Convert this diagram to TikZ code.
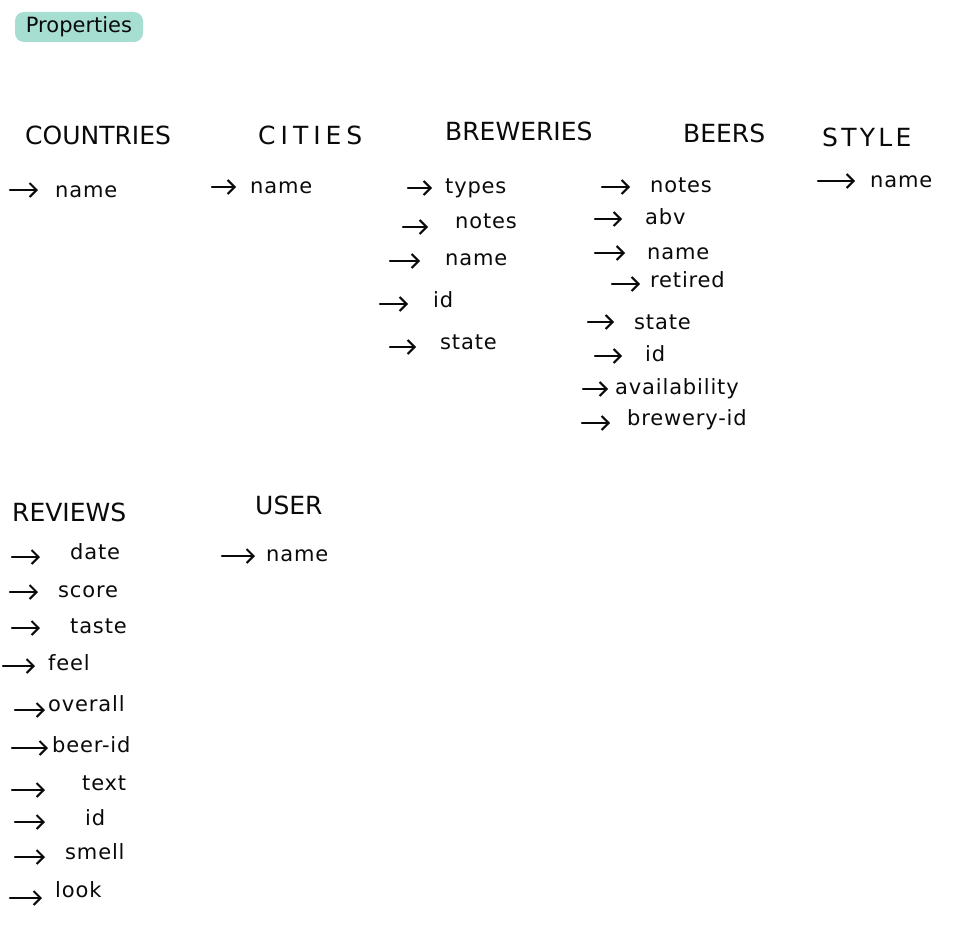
\documentclass[tikz,border=0pt]{standalone}
\usepackage{fontspec}
\setmainfont{DejaVu Sans}
\usetikzlibrary{arrows.meta}
\definecolor{hlteal}{RGB}{166,222,210}
\definecolor{ink}{RGB}{10,10,10}
\tikzset{
  hd/.style={font=\fontsize{25}{30}\selectfont, anchor=west, inner sep=0, text=ink},
  it/.style={font=\fontsize{21}{24}\selectfont\addfontfeature{LetterSpace=4}, anchor=mid west, inner sep=0, text=ink},
  arr/.style={draw=ink, line width=2.2pt, line cap=round, -{Straight Barb[length=7pt,width=14pt,line width=2pt]}},
  titlebox/.style={fill=hlteal, rounded corners=9pt, minimum width=128pt, minimum height=30pt,
    inner sep=0, font=\fontsize{21}{24}\selectfont, text=ink}
}
\newcommand\propln[7]{%
  \coordinate (#1s) at (#2,#4);
  \coordinate (#1e) at (#3,#4);
  \node[it] (#1) at (#5,#6+5) {#7};
  \draw[arr] (#1s) -- (#1e);
}
\begin{document}
\begin{tikzpicture}[x=1pt,y=-1pt]
\useasboundingbox (0,0) rectangle (976,934);
\fill[white] (0,0) rectangle (976,934);

\node[titlebox] (title) at (79,27) {Properties};

% headings
\node[hd] (countries) at (25,135) {COUNTRIES};
\node[hd] (cities) at (258,135) {\addfontfeature{LetterSpace=20}CITIES};
\node[hd] (breweries) at (445,131) {BREWERIES};
\node[hd] (beers) at (683,133) {BEERS};
\node[hd] (style) at (822,137) {\addfontfeature{LetterSpace=13}STYLE};
\node[hd] (reviews) at (12,512) {REVIEWS};
\node[hd] (user) at (255,505) {USER};

% countries
\propln{c1}{10}{38}{190}{55}{190}{name}
% cities
\propln{ci1}{212}{236}{187}{250}{186}{name}
% breweries
\propln{b1}{408}{432}{188}{445}{186}{types}
\propln{b2}{403}{428}{227}{455}{221}{notes}
\propln{b3}{390}{420}{261}{445}{258}{name}
\propln{b4}{380}{408}{304}{433}{300}{id}
\propln{b5}{390}{416}{347}{440}{342}{state}
% beers
\propln{e1}{602}{630}{187}{650}{185}{notes}
\propln{e2}{595}{622}{219}{645}{217}{abv}
\propln{e3}{595}{625}{253}{647}{252}{name}
\propln{e4}{612}{640}{284}{650}{280}{retired}
\propln{e5}{588}{614}{322}{634}{322}{state}
\propln{e6}{595}{622}{356}{645}{354}{id}
\propln{e7}{583}{608}{389}{615}{387}{availability}
\propln{e8}{582}{610}{423}{627}{418}{brewery-id}
% style
\propln{s1}{818}{855}{181}{870}{180}{name}
% reviews
\propln{r1}{12}{40}{557}{70}{552}{date}
\propln{r2}{10}{38}{592}{58}{590}{score}
\propln{r3}{12}{40}{628}{70}{626}{taste}
\propln{r4}{3}{35}{666}{48}{663}{feel}
\propln{r5}{15}{45}{710}{48}{704}{overall}
\propln{r6}{12}{48}{748}{52}{745}{beer-id}
\propln{r7}{12}{45}{790}{82}{783}{text}
\propln{r8}{15}{45}{822}{85}{818}{id}
\propln{r9}{15}{45}{857}{65}{852}{smell}
\propln{r10}{10}{42}{898}{55}{890}{look}
% user
\propln{u1}{222}{255}{556}{266}{554}{name}
\end{tikzpicture}
\end{document}
